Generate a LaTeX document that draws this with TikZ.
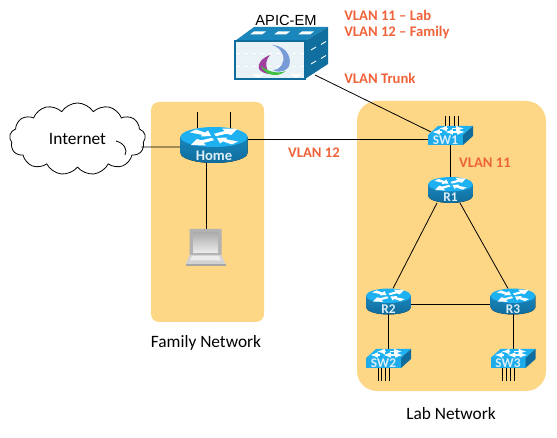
\documentclass[tikz,border=0pt]{standalone}
\usepackage{fontspec}
\setmainfont{Carlito}
\newfontfamily\arialfont{Liberation Sans}
\usetikzlibrary{calc,positioning,shapes.symbols}
\definecolor{panelyellow}{HTML}{FDD785}
\definecolor{vlanorange}{HTML}{F0633A}
\definecolor{devtop}{HTML}{1DB1F2}
\definecolor{devside}{HTML}{1B86BC}
\definecolor{devdark}{HTML}{0F6C9C}
\definecolor{devlabelcol}{HTML}{DDEFF8}
\definecolor{serverface}{HTML}{E8F2F7}
\tikzset{
  panel/.style={fill=panelyellow, draw=none},
  wire/.style={draw=black, line width=.6pt},
  portwire/.style={draw=black, line width=.6pt},
  slot/.style={inner sep=0pt, outer sep=0pt, minimum width=#1},
  vlan/.style={text=vlanorange, font=\fontsize{11}{13}\selectfont\bfseries, inner sep=0pt},
  caption/.style={font=\fontsize{13}{15}\selectfont, inner sep=0pt},
  devlabel/.style={text=devlabelcol, font=\fontsize{10}{12}\selectfont\bfseries, inner sep=0pt},
  routericon/.pic={
    \fill[top color=devside, bottom color=devdark]
      (-33.5,-8)--(-33.5,8) .. controls (-33.5,13.5) and (-18.5,18) .. (0,18)
      .. controls (18.5,18) and (33.5,13.5) .. (33.5,8)--(33.5,-8)--cycle;
    \fill[devtop] (0,-8) ellipse [x radius=33.5, y radius=10];
    \begin{scope}[shift={(0,-8)}]
      % arrows going out
      \foreach \sx/\sy in {1/-1,-1/1}{
        \fill[white, xscale=\sx, yscale=\sy]
          (2,.8)--(12.5,3.3)--(17,2)--(23,8)--(8,8.5)--(10.5,6)--(0,3.2)--cycle;
      }
      % arrows coming in
      \foreach \sx/\sy in {-1/-1,1/1}{
        \fill[white, xscale=\sx, yscale=\sy]
          (3,1)--(13,.5)--(12,2.2)--(24,4.5)--(18,7.5)--(9,4.4)--(6,6.5)--cycle;
      }
    \end{scope}
    \node[devlabel] at (0,10.5) {#1};
  },
  switchicon/.pic={
    \fill[devtop] (-22.5,-.5)--(12.5,-.5)--(22.5,-9.5)--(-12.5,-9.5)--cycle;
    \fill[devtop!85!devside] (-22.5,-.5)--(12.5,-.5)--(12.5,9.5)--(-22.5,9.5)--cycle;
    \fill[devdark] (12.5,-.5)--(22.5,-9.5)--(22.5,.5)--(12.5,9.5)--cycle;
    \foreach \xa/\xb/\ya in {-3/-11/-7, 1/13/-7, 6/-5/-3.5, -9/-18/-3.5, 4/14/-3.5}{
      \draw[white, line width=.9pt, -{latex}] (\xa,\ya)--(\xb,\ya);
    }
    \node[devlabel] at (-5,4.8) {#1};
  }
}

\begin{document}
\begin{tikzpicture}[x=.75pt, y=-.75pt]
  \useasboundingbox (0,0) rectangle (557,438);
  % networks
  \fill[panel, rounded corners=6pt] (151,102) rectangle (264,322);
  \fill[panel, rounded corners=15pt] (357,101) rectangle (546,391);

  \node[slot=50.25pt, minimum height=27pt] (Home) at (214,145) {};
  \node[slot=33.75pt, minimum height=14.25pt] (SW1) at (450.5,135.5) {};
  \node[slot=33.75pt, minimum height=19.5pt] (R1) at (450.5,190) {};
  \node[slot=33.75pt, minimum height=19.5pt] (R2) at (388.5,301.5) {};
  \node[slot=33.75pt, minimum height=19.5pt] (R3) at (513,301.5) {};
  \node[slot=33.75pt, minimum height=14.25pt] (SW2) at (388.5,358.5) {};
  \node[slot=33.75pt, minimum height=14.25pt] (SW3) at (513,358.5) {};
  \node[slot=30pt, minimum height=28pt] (laptop) at (206.5,247.5) {};
  \node[slot=69.75pt, minimum height=39pt] (apic) at (281.5,53) {};
  \node[cloud, cloud puffs=13, cloud puff arc=115, aspect=1.9, draw=black, fill=white,
    line width=.6pt, minimum width=102pt, minimum height=54pt, inner sep=0pt,
    font=\fontsize{13}{15}\selectfont] (internet) at (77.5,139) {Internet};
  \draw[line width=.6pt] (116,141) .. controls (124,143) and (128,150) .. (125,155);

  % connectors
  \draw[wire] ($(internet.east)+(-4,8)$)--($(Home.west)+(0,2)$);
  \draw[wire] ($(Home.east)+(0,-5.5)$)--($(SW1.west)+(0,4)$);
  \draw[wire] ($(apic.south east)+(-13,-4)$)--($(SW1.west)+(3,-3.5)$);
  \draw[wire] ($(Home.south)+(-7.5,0)$)--(laptop.north);
  \draw[wire] (SW1.south)--(R1.north);
  \draw[wire] ($(R1.south)+(-13.5,0)$)--($(R2.north)+(4.5,0)$);
  \draw[wire] ($(R1.south)+(9.5,0)$)--($(R3.north)+(-5,0)$);
  \draw[wire] ($(R2.east)+(0,2.5)$)--($(R3.west)+(0,2.5)$);
  \draw[wire] (R2.south)--(SW2.north);
  \draw[wire] (R3.south)--(SW3.north);

  % stubs
  \foreach \x in {-16.5,16.5}
    \draw[portwire] ($(Home.north)+(\x,-15)$)--+(0,16);
  \foreach \x in {-5.5,-1,4,8}
    \draw[portwire] ($(SW1.north)+(\x,-10)$)--+(0,12);
  \foreach \x in {-10.2,-7.5,-3.5,1}
    \draw[portwire] ($(SW2.south)+(\x,-2)$)--+(0,15);
  \foreach \x in {-10.5,-7,-3,1}
    \draw[portwire] ($(SW3.south)+(\x,-2)$)--+(0,15);

  % devices
  \pic at (Home) {routericon={\fontsize{11}{13}\selectfont Home}};
  \foreach \n in {R1,R2,R3}
    \pic[xscale=.67, yscale=.72] at (\n) {routericon=\n};
  \foreach \n in {SW1,SW2,SW3}
    \pic at (\n) {switchicon=\n};

  % laptop
  \begin{scope}[shift={(laptop.center)}, xshift=-.75pt]
    \fill[gray!60, rounded corners=.5pt] (-16,-18.5) rectangle (16,8);
    \shade[top color=gray!65, bottom color=gray!15] (-12.5,-15) rectangle (12.5,5.5);
    \fill[gray!35] (-16,7.5)--(16,7.5)--(20,17)--(-20,17)--cycle;
    \fill[gray!15] (-13.5,8.5)--(13.5,8.5)--(15.5,13)--(-15.5,13)--cycle;
    \fill[gray!70] (-20,17) rectangle (20,18.5);
  \end{scope}

  % server
  \fill[devside] (235,41)--(305,41)--(328,27)--(254,27)--cycle;
  \fill[devdark!90!devside] (305,41)--(328,27)--(328,64)--(305,79)--cycle;
  \fill[serverface, draw=devdark, line width=.8pt] (235,41) rectangle (305,79);
  \foreach \x in {0,1,2}
    \fill[white] (250+\x*24,34.5)--(262+\x*24,34.5)--(266+\x*24,31.5)--(254+\x*24,31.5)--cycle;
  \foreach \x/\y in {311/50,321/44.5,311/64,321/58.5}
    \draw[white, line width=.7pt] (\x,\y)--+(5,-3);
  \draw[white, line width=.6pt, dashed] (236,53)--(304,53);
  \draw[white, line width=.6pt, dashed] (236,66)--(304,66);
  \fill[white] (252,74)--(264,74)--(258,78)--cycle;
  \fill[white] (290,74)--(302,74)--(296,78)--cycle;
  \fill[cyan!45!blue!55!white] (272,45) .. controls (288,46) and (293,60) .. (288,68)
    .. controls (283,73) and (275,72) .. (273,70) .. controls (281,70) and (285,62) .. (283,55)
    .. controls (281,49) and (276,46) .. (272,45)--cycle;
  \fill[violet!75!white] (270,55) .. controls (262,58) and (257,64) .. (259,69)
    .. controls (261,72) and (266,74) .. (270,74) .. controls (266,70) and (264,62) .. (270,55)--cycle;
  \fill[green!50!gray] (261,66) .. controls (264,74) and (276,79) .. (286,71)
    .. controls (278,74) and (268,72) .. (261,66)--cycle;

  % texts
  \node[font=\arialfont\fontsize{11}{13}\selectfont, inner sep=0pt] (apiclabel) at (286,20) {APIC-EM};
  \node[vlan, anchor=west] (vlanlab) at (344,15) {VLAN 11 -- Lab};
  \node[vlan, anchor=west] (vlanfamily) at (344,33) {VLAN 12 -- Family};
  \node[vlan, anchor=west] (vlantrunk) at (344,78) {VLAN Trunk};
  \node[vlan] (vlanhome) at (314,153) {VLAN 12};
  \node[vlan] (vlansw) at (485,163) {VLAN 11};
  \node[caption] (familylabel) at (206,343) {Family Network};
  \node[caption] (lablabel) at (451,414) {Lab Network};
\end{tikzpicture}
\end{document}
